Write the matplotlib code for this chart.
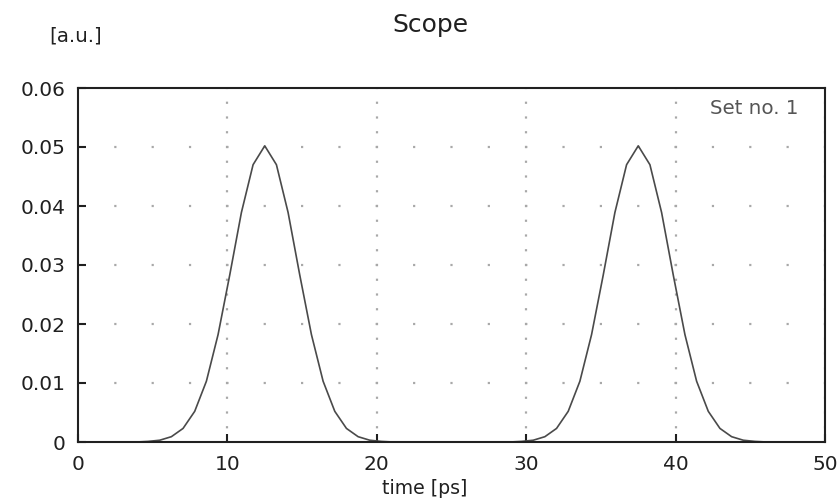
#!/usr/bin/env python3
"""
Scope trace: two Gaussian pulses, amplitude vs. time
"""

import numpy as np
import matplotlib
matplotlib.use('Agg')
import matplotlib.pyplot as plt

plt.rcParams['font.family'] = ['DejaVu Sans']
plt.rcParams['lines.scale_dashes'] = False

# sampled trace, 65 points over 0..50 ps
time_ps = np.linspace(0, 50, 65)
amplitude = [
    0.0, 0.0, 0.0, 0.0, 0.0, 0.0,
    0.0001, 0.0003, 0.0009, 0.0023, 0.0052, 0.0103, 0.0182, 0.0283, 0.0389, 0.0470,
    0.0502,
    0.0470, 0.0389, 0.0283, 0.0182, 0.0103, 0.0052, 0.0023, 0.0009, 0.0003, 0.0001,
    0.0, 0.0, 0.0, 0.0, 0.0, 0.0, 0.0, 0.0, 0.0, 0.0, 0.0,
    0.0001, 0.0003, 0.0009, 0.0023, 0.0052, 0.0103, 0.0182, 0.0283, 0.0389, 0.0470,
    0.0502,
    0.0470, 0.0389, 0.0283, 0.0182, 0.0103, 0.0052, 0.0023, 0.0009, 0.0003, 0.0001,
    0.0, 0.0, 0.0, 0.0, 0.0, 0.0,
]

x_ticks = [0, 10, 20, 30, 40, 50]
y_ticks = [0, 0.01, 0.02, 0.03, 0.04, 0.05, 0.06]
y_tick_labels = ['0', '0.01', '0.02', '0.03', '0.04', '0.05', '0.06']

W, H = 839, 501
fig = plt.figure(figsize=(W / 100, H / 100), dpi=100)
ax = fig.add_axes([78 / W, 1 - 442 / H, (825 - 78) / W, (442 - 88) / H])

ax.set_xlim(0, 50)
ax.set_ylim(0, 0.06)

# dotted grid: sparse dots along horizontals, dense dots along verticals
px = 72 / 100
dot = 2.2 * px
for y in y_ticks[1:-1]:
    ax.axhline(y, color='#a8a8a8', lw=dot,
               linestyle=(dot / 2, (dot, 37.35 * px - dot)), zorder=1)
for x in x_ticks[1:]:
    ax.axvline(x, color='#a8a8a8', lw=dot,
               linestyle=(dot / 2, (dot, 14.75 * px - dot)), zorder=1)

ax.plot(time_ps, amplitude, color='#4a4a4a', lw=1.2, zorder=3)

for side in ['left', 'bottom', 'top', 'right']:
    ax.spines[side].set_linewidth(1.5)
    ax.spines[side].set_color('#202020')
    ax.spines[side].set_zorder(4)

ax.set_xticks(x_ticks)
ax.set_yticks(y_ticks)
ax.set_yticklabels(y_tick_labels)
ax.tick_params(direction='in', length=6, width=1.5, labelsize=14.5,
               pad=9, colors='#202020', top=False, right=False)

ax.text(0.964, 0.943, 'Set no. 1', transform=ax.transAxes, ha='right', va='center',
        fontsize=14.3, color='#555555')

fig.text(430 / W, 1 - 25 / H, 'Scope', ha='center', va='center', fontsize=18,
         color='#202020')
fig.text(76 / W, 1 - 36 / H, '[a.u.]', ha='center', va='center', fontsize=14.3,
         color='#202020')
fig.text(425 / W, 1 - 489 / H, 'time [ps]', ha='center', va='center', fontsize=13.6,
         color='#202020')

fig.savefig('out.png', dpi=100, facecolor='white')
